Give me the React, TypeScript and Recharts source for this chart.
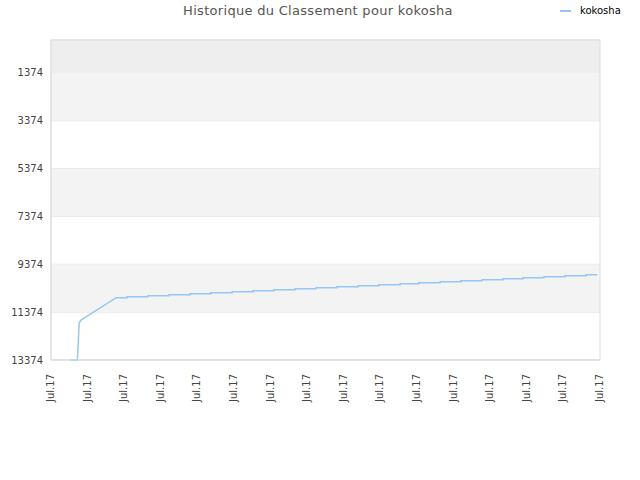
import { LineChart, Line, XAxis, YAxis, CartesianGrid, ReferenceArea } from 'recharts';

// x positions are in tick units: 0 = first "Jul.17" tick, 15 = last
const tickLabels = ['Jul.17', 'Jul.17', 'Jul.17', 'Jul.17', 'Jul.17', 'Jul.17', 'Jul.17', 'Jul.17',
  'Jul.17', 'Jul.17', 'Jul.17', 'Jul.17', 'Jul.17', 'Jul.17', 'Jul.17', 'Jul.17'];
const rankTicks = [1374, 3374, 5374, 7374, 9374, 11374, 13374];

// start of the curve (drop from the bottom)
const rampTimes = [0.52, 0.72, 0.77, 0.82, 1.78, 2.08];
const rampRanks = [13374, 13374, 11827, 11702, 10770, 10770];

// stair part
const stepTimes = [2.08, 2.65, 3.22, 3.8, 4.37, 4.95, 5.52, 6.09, 6.67, 7.24, 7.81, 8.39,
  8.96, 9.54, 10.05, 10.63, 11.2, 11.78, 12.35, 12.9, 13.47, 14.04, 14.62];
const stepRanks = [10728, 10686, 10644, 10602, 10560, 10519, 10477, 10435, 10393, 10351, 10310, 10268,
  10226, 10184, 10142, 10101, 10059, 10017, 9975, 9933, 9891, 9850, 9808];
const lastTime = 14.92;

// bands behind the plot
const bandFrom = [0, 1374, 5374, 9374];
const bandTo = [1374, 3374, 7374, 11374];
const bandColors = ['#eeeeee', '#f3f3f3', '#f3f3f3', '#f3f3f3'];

const data: { t: number; rank: number }[] = [];
rampTimes.forEach((t, i) => data.push({ t, rank: rampRanks[i] }));
stepTimes.forEach((t, i) => {
  data.push({ t, rank: stepRanks[i] });
  data.push({ t: i + 1 < stepTimes.length ? stepTimes[i + 1] : lastTime, rank: stepRanks[i] });
});

const font = 'DejaVu Sans';
const lineColor = '#95c6f5';

export default function App() {
  return (
    <div style={{ position: 'fixed', left: 0, top: 0, width: 640, height: 480, background: '#fff' }}>
      <div style={{ position: 'absolute', left: 0, top: 3, width: 636, textAlign: 'center', fontFamily: font, fontSize: 13, letterSpacing: 0.3, color: '#555', zIndex: 1 }}>
        Historique du Classement pour kokosha
      </div>
      {/* legend */}
      <div style={{ position: 'absolute', top: 5, left: 560, display: 'flex', alignItems: 'center', fontFamily: font, fontSize: 10, color: '#000', zIndex: 1 }}>
        <span style={{ display: 'inline-block', width: 11, height: 2, background: lineColor, marginRight: 9 }} />
        kokosha
      </div>
      <LineChart width={640} height={480} data={data} margin={{ top: 40, right: 40, left: 0, bottom: 0 }}>
        {bandFrom.map((y1, i) => (
          <ReferenceArea key={i} x1={0} x2={15} y1={y1} y2={bandTo[i]} fill={bandColors[i]} fillOpacity={1} stroke="none" ifOverflow="visible" />
        ))}
        <CartesianGrid vertical={false} stroke="#e0e0e0" />
        <ReferenceArea x1={0} x2={15} y1={0} y2={13374} fill="none" stroke="#dddddd" strokeWidth={1} ifOverflow="visible" />
        <XAxis
          dataKey="t"
          type="number"
          domain={[0, 15]}
          ticks={tickLabels.map((_, i) => i)}
          tickFormatter={(v: number) => tickLabels[v]}
          interval={0}
          height={120}
          axisLine={{ stroke: '#dddddd' }}
          tickLine={false}
          tick={{ fontFamily: font, fontSize: 10, fill: '#444', angle: -90, textAnchor: 'end', dx: -4, dy: 6 }}
        />
        <YAxis
          type="number"
          reversed
          domain={[0, 13374]}
          ticks={rankTicks}
          interval={0}
          width={51}
          axisLine={{ stroke: '#dddddd' }}
          tickLine={false}
          tick={{ fontFamily: font, fontSize: 10, fill: '#444' }}
        />
        <Line type="linear" dataKey="rank" stroke={lineColor} strokeWidth={1.5} dot={false} isAnimationActive={false} />
      </LineChart>
    </div>
  );
}
